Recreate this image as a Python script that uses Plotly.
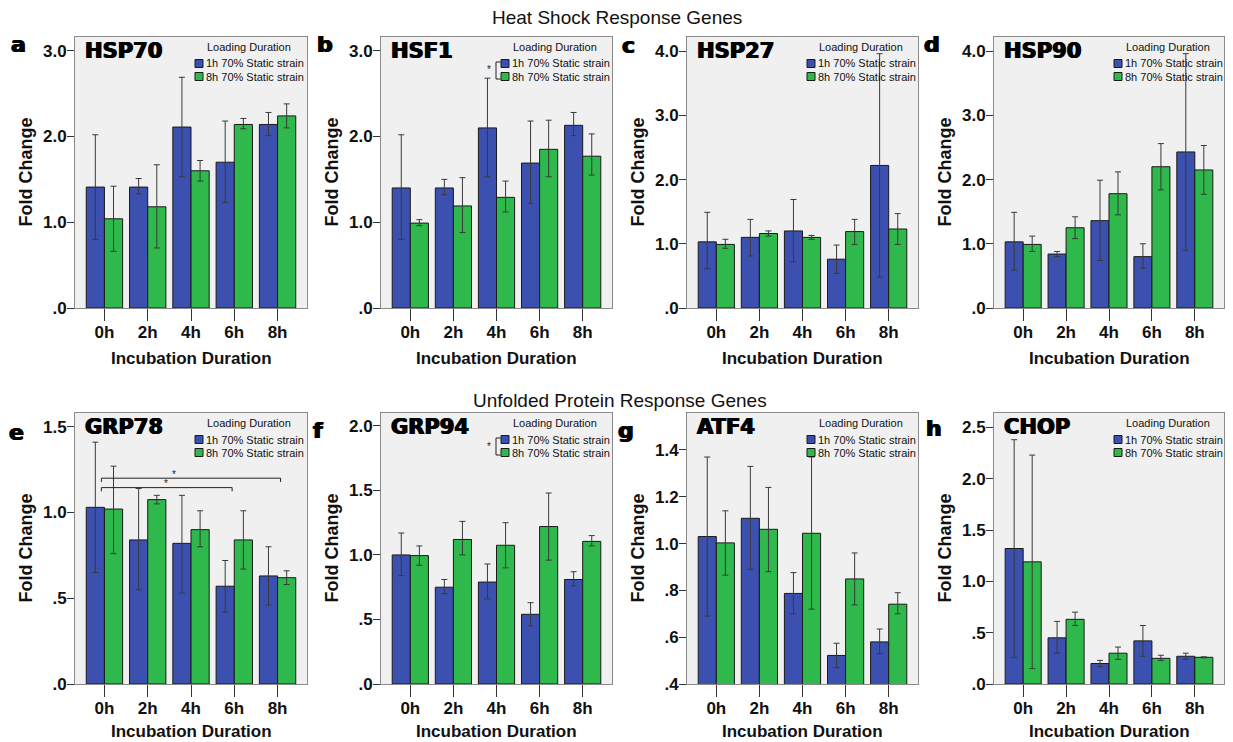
import plotly.graph_objects as go

# The page body has an 8 px margin, so the figure is drawn 8 px in from the top-left.
OFF = 8
W, H = 1233 - OFF, 742 - OFF

CATS = ["0h", "2h", "4h", "6h", "8h"]
SERIES = ["1h 70% Static strain", "8h 70% Static strain"]
LEGEND_TITLE = "Loading Duration"
GENES = ["HSP70", "HSF1", "HSP27", "HSP90", "GRP78", "GRP94", "ATF4", "CHOP"]
LETTERS = ["a", "b", "c", "d", "e", "f", "g", "h"]
SECTION_TITLES = ["Heat Shock Response Genes", "Unfolded Protein Response Genes"]
X_TITLE = "Incubation Duration"
Y_TITLE = "Fold Change"

# ---- values: mean, lower and upper error-bar ends ----
HSP70_1H = [1.41, 1.41, 2.11, 1.70, 2.14]
HSP70_1H_LO = [0.80, 1.33, 1.53, 1.23, 2.01]
HSP70_1H_HI = [2.02, 1.51, 2.69, 2.18, 2.28]
HSP70_8H = [1.04, 1.18, 1.60, 2.14, 2.24]
HSP70_8H_LO = [0.66, 0.70, 1.48, 2.09, 2.10]
HSP70_8H_HI = [1.42, 1.67, 1.72, 2.21, 2.38]

HSF1_1H = [1.40, 1.40, 2.10, 1.69, 2.13]
HSF1_1H_LO = [0.80, 1.32, 1.53, 1.22, 2.01]
HSF1_1H_HI = [2.02, 1.50, 2.68, 2.18, 2.28]
HSF1_8H = [0.99, 1.19, 1.29, 1.85, 1.77]
HSF1_8H_LO = [0.96, 0.88, 1.12, 1.53, 1.55]
HSF1_8H_HI = [1.03, 1.52, 1.48, 2.19, 2.03]

HSP27_1H = [1.03, 1.10, 1.20, 0.76, 2.22]
HSP27_1H_LO = [0.61, 0.81, 0.72, 0.54, 0.48]
HSP27_1H_HI = [1.49, 1.38, 1.69, 0.98, 3.96]
HSP27_8H = [0.99, 1.16, 1.10, 1.19, 1.23]
HSP27_8H_LO = [0.93, 1.12, 1.07, 0.99, 0.99]
HSP27_8H_HI = [1.07, 1.20, 1.13, 1.38, 1.47]

HSP90_1H = [1.03, 0.84, 1.36, 0.80, 2.43]
HSP90_1H_LO = [0.59, 0.80, 0.74, 0.62, 0.90]
HSP90_1H_HI = [1.49, 0.88, 1.99, 1.00, 3.96]
HSP90_8H = [0.99, 1.25, 1.78, 2.20, 2.15]
HSP90_8H_LO = [0.88, 1.08, 1.45, 1.84, 1.77]
HSP90_8H_HI = [1.12, 1.42, 2.12, 2.56, 2.53]

GRP78_1H = [1.03, 0.84, 0.82, 0.57, 0.63]
GRP78_1H_LO = [0.65, 0.55, 0.53, 0.42, 0.46]
GRP78_1H_HI = [1.41, 1.14, 1.10, 0.72, 0.80]
GRP78_8H = [1.02, 1.075, 0.90, 0.84, 0.62]
GRP78_8H_LO = [0.76, 1.05, 0.80, 0.67, 0.58]
GRP78_8H_HI = [1.27, 1.10, 1.01, 1.01, 0.66]

GRP94_1H = [1.00, 0.75, 0.79, 0.54, 0.81]
GRP94_1H_LO = [0.84, 0.70, 0.66, 0.45, 0.76]
GRP94_1H_HI = [1.17, 0.81, 0.93, 0.63, 0.87]
GRP94_8H = [0.995, 1.12, 1.075, 1.22, 1.105]
GRP94_8H_LO = [0.92, 1.00, 0.90, 0.96, 1.07]
GRP94_8H_HI = [1.07, 1.26, 1.25, 1.48, 1.15]

ATF4_1H = [1.03, 1.108, 0.787, 0.522, 0.58]
ATF4_1H_LO = [0.69, 0.89, 0.70, 0.47, 0.53]
ATF4_1H_HI = [1.37, 1.33, 0.876, 0.574, 0.635]
ATF4_8H = [1.003, 1.061, 1.044, 0.849, 0.741]
ATF4_8H_LO = [0.865, 0.88, 0.72, 0.738, 0.70]
ATF4_8H_HI = [1.14, 1.24, 1.37, 0.96, 0.79]

CHOP_1H = [1.32, 0.45, 0.20, 0.42, 0.27]
CHOP_1H_LO = [0.26, 0.30, 0.17, 0.27, 0.24]
CHOP_1H_HI = [2.38, 0.61, 0.23, 0.57, 0.30]
CHOP_8H = [1.19, 0.63, 0.30, 0.25, 0.26]
CHOP_8H_LO = [0.15, 0.57, 0.24, 0.23, 0.255]
CHOP_8H_HI = [2.23, 0.70, 0.36, 0.28, 0.265]

# y axis ticks per panel
Y_TICKS_A = [0, 1, 2, 3]
Y_TEXT_A = [".0", "1.0", "2.0", "3.0"]
Y_TICKS_C = [0, 1, 2, 3, 4]
Y_TEXT_C = [".0", "1.0", "2.0", "3.0", "4.0"]
Y_TICKS_E = [0, 0.5, 1.0, 1.5]
Y_TEXT_E = [".0", ".5", "1.0", "1.5"]
Y_TICKS_F = [0, 0.5, 1.0, 1.5, 2.0]
Y_TEXT_F = [".0", ".5", "1.0", "1.5", "2.0"]
Y_TICKS_G = [0.4, 0.6, 0.8, 1.0, 1.2, 1.4]
Y_TEXT_G = [".4", ".6", ".8", "1.0", "1.2", "1.4"]
Y_TICKS_H = [0, 0.5, 1.0, 1.5, 2.0, 2.5]
Y_TEXT_H = [".0", ".5", "1.0", "1.5", "2.0", "2.5"]

DATA = [
    (HSP70_1H, HSP70_1H_LO, HSP70_1H_HI, HSP70_8H, HSP70_8H_LO, HSP70_8H_HI),
    (HSF1_1H, HSF1_1H_LO, HSF1_1H_HI, HSF1_8H, HSF1_8H_LO, HSF1_8H_HI),
    (HSP27_1H, HSP27_1H_LO, HSP27_1H_HI, HSP27_8H, HSP27_8H_LO, HSP27_8H_HI),
    (HSP90_1H, HSP90_1H_LO, HSP90_1H_HI, HSP90_8H, HSP90_8H_LO, HSP90_8H_HI),
    (GRP78_1H, GRP78_1H_LO, GRP78_1H_HI, GRP78_8H, GRP78_8H_LO, GRP78_8H_HI),
    (GRP94_1H, GRP94_1H_LO, GRP94_1H_HI, GRP94_8H, GRP94_8H_LO, GRP94_8H_HI),
    (ATF4_1H, ATF4_1H_LO, ATF4_1H_HI, ATF4_8H, ATF4_8H_LO, ATF4_8H_HI),
    (CHOP_1H, CHOP_1H_LO, CHOP_1H_HI, CHOP_8H, CHOP_8H_LO, CHOP_8H_HI),
]

Y_AXES = [
    ([0, 3.16], Y_TICKS_A, Y_TEXT_A),
    ([0, 3.16], Y_TICKS_A, Y_TEXT_A),
    ([0, 4.22], Y_TICKS_C, Y_TEXT_C),
    ([0, 4.22], Y_TICKS_C, Y_TEXT_C),
    ([0, 1.58], Y_TICKS_E, Y_TEXT_E),
    ([0, 2.10], Y_TICKS_F, Y_TEXT_F),
    ([0.4, 1.558], Y_TICKS_G, Y_TEXT_G),
    ([0, 2.64], Y_TICKS_H, Y_TEXT_H),
]

# ---- layout geometry (pixels in the screenshot) ----
COL_X = [(75, 307), (381, 612), (687, 918), (994, 1224)]
ROW_Y = [(37, 308), (413, 684)]
LETTER_POS = [(18, 44), (325, 44), (628, 45), (932, 44),
              (16, 432), (318, 430), (626, 430), (934, 428)]
X_TITLE_SHIFT = [-50, -47]

BLUE = "#3B50AF"
GREEN = "#2FB84B"
COLORS = [BLUE, GREEN]
FONT = "Liberation Sans, Arial, sans-serif"
HEAVY = "DejaVu Sans, Arial Black, sans-serif"
HEAVY_SHADOW = "0.7px 0px 0px #000, -0.7px 0px 0px #000"

fig = go.Figure()
shapes = []
annotations = []


def px_x(x):
    return (x - OFF) / W


def px_y(y):
    return 1 - (y - OFF) / H


for i in range(8):
    n = i + 1
    col = i % 4
    row = i // 4
    x0, x1 = COL_X[col]
    y0, y1 = ROW_Y[row]
    pw, ph = x1 - x0, y1 - y0
    xa = "x" if n == 1 else f"x{n}"
    ya = "y" if n == 1 else f"y{n}"
    vals = DATA[i]
    for s in range(2):
        mean, lo, hi = vals[3 * s], vals[3 * s + 1], vals[3 * s + 2]
        fig.add_trace(go.Bar(
            x=CATS, y=mean, name=SERIES[s], xaxis=xa, yaxis=ya,
            marker=dict(color=COLORS[s], line=dict(color="#1a1a1a", width=1)),
            error_y=dict(type="data", symmetric=False,
                         array=[h - m for h, m in zip(hi, mean)],
                         arrayminus=[m - l for m, l in zip(mean, lo)],
                         color="#3a3a3a", thickness=1, width=3),
            showlegend=False,
        ))
    yr, tv, tt = Y_AXES[i]
    fig.layout[f"xaxis{n}" if n > 1 else "xaxis"] = dict(
        domain=[px_x(x0), px_x(x1)], anchor=ya, type="category", automargin=False,
        range=[-0.68, 4.68], showgrid=False, showline=True, linecolor="#8a8a8a",
        linewidth=1, mirror=True, ticks="outside", ticklen=12, tickwidth=1,
        tickcolor="#333", tickfont=dict(family=FONT, size=17, color="#111", weight="bold"),
        ticklabelstandoff=-3, fixedrange=True,
    )
    fig.layout[f"yaxis{n}" if n > 1 else "yaxis"] = dict(
        domain=[px_y(y1), px_y(y0)], anchor=xa, range=yr, tickvals=tv, ticktext=tt,
        automargin=False,
        showgrid=False, zeroline=False, showline=True, linecolor="#8a8a8a", linewidth=1,
        mirror=True, ticks="outside", ticklen=7, tickwidth=1, tickcolor="#333",
        tickfont=dict(family=FONT, size=17, color="#111", weight="bold"),
        ticklabelstandoff=-3, fixedrange=True,
    )
    xd = f"{xa} domain"
    yd = f"{ya} domain"
    # axis titles
    annotations.append(dict(x=0, y=0.5, xref=xd, yref=yd, xshift=-50, text=Y_TITLE,
                            textangle=-90, showarrow=False, xanchor="center", yanchor="middle",
                            font=dict(family=FONT, size=18, color="#111", weight="bold")))
    annotations.append(dict(x=0.5, y=0, xref=xd, yref=yd, yshift=X_TITLE_SHIFT[row],
                            text=X_TITLE, showarrow=False, xanchor="center", yanchor="middle",
                            font=dict(family=FONT, size=17, color="#111", weight="bold")))
    # gene name
    annotations.append(dict(x=8 / pw, y=1 - 14 / ph, xref=xd, yref=yd, text=GENES[i],
                            showarrow=False, xanchor="left", yanchor="middle",
                            font=dict(family=HEAVY, size=21, color="#000", weight="bold",
                                      shadow=HEAVY_SHADOW)))
    # panel letter
    lx, ly = LETTER_POS[i]
    annotations.append(dict(x=px_x(lx), y=px_y(ly), xref="paper", yref="paper", text=LETTERS[i],
                            showarrow=False, xanchor="center", yanchor="middle",
                            font=dict(family=HEAVY, size=22, color="#000", weight="bold",
                                      shadow=HEAVY_SHADOW)))
    # legend
    annotations.append(dict(x=174 / pw, y=1 - 10 / ph, xref=xd, yref=yd, text=LEGEND_TITLE,
                            showarrow=False, xanchor="center", yanchor="middle",
                            font=dict(family=FONT, size=11, color="#111")))
    for s, cy in enumerate([26.5, 39.5]):
        shapes.append(dict(type="rect", xref=xd, yref=yd,
                           x0=120 / pw, x1=128 / pw, y0=1 - (cy - 4) / ph, y1=1 - (cy + 4) / ph,
                           fillcolor=COLORS[s], line=dict(color="#1a1a1a", width=1)))
        annotations.append(dict(x=129 / pw, y=1 - cy / ph, xref=xd, yref=yd, text=SERIES[s],
                                showarrow=False, xanchor="left", yanchor="middle",
                                font=dict(family=FONT, size=11, color="#111")))
    # significance bracket beside legend (panels b and f)
    if GENES[i] in ("HSF1", "GRP94"):
        bx = 115 / pw
        bx2 = 119.5 / pw
        for seg in [(bx, 25, bx, 42), (bx, 25, bx2, 25), (bx, 42, bx2, 42)]:
            shapes.append(dict(type="line", xref=xd, yref=yd,
                               x0=seg[0], y0=1 - seg[1] / ph, x1=seg[2], y1=1 - seg[3] / ph,
                               line=dict(color="#222", width=1)))
        annotations.append(dict(x=108 / pw, y=1 - 33 / ph, xref=xd, yref=yd, text="*",
                                showarrow=False, xanchor="center", yanchor="middle",
                                font=dict(family=FONT, size=10, color="#222")))
    # significance brackets inside GRP78 panel
    if GENES[i] == "GRP78":
        for (xs, xe, yl, xstar) in [(-0.07, 4.07, 1.20, 1.6), (-0.07, 2.95, 1.145, 1.42)]:
            shapes.append(dict(type="line", xref=xa, yref=ya, x0=xs, x1=xe, y0=yl, y1=yl,
                               line=dict(color="#222", width=1)))
            for xx in (xs, xe):
                shapes.append(dict(type="line", xref=xa, yref=ya, x0=xx, x1=xx,
                                   y0=yl, y1=yl - 0.022, line=dict(color="#222", width=1)))
            annotations.append(dict(x=xstar, y=yl, xref=xa, yref=ya, text="*", yshift=4,
                                    showarrow=False, xanchor="center", yanchor="middle",
                                    font=dict(family=FONT, size=10, color="#222")))

# section headers
annotations.append(dict(x=px_x(617), y=px_y(18), xref="paper", yref="paper",
                        text=SECTION_TITLES[0], showarrow=False, xanchor="center",
                        yanchor="middle", font=dict(family=FONT, size=19, color="#111")))
annotations.append(dict(x=px_x(620), y=px_y(400), xref="paper", yref="paper",
                        text=SECTION_TITLES[1], showarrow=False, xanchor="center",
                        yanchor="middle", font=dict(family=FONT, size=19, color="#111")))

fig.update_layout(
    width=W, height=H, margin=dict(l=0, r=0, t=0, b=0, autoexpand=False),
    paper_bgcolor="white", plot_bgcolor="#F0F0F0",
    barmode="group", bargap=0.16, bargroupgap=0,
    shapes=shapes, annotations=annotations, showlegend=False,
    font=dict(family=FONT),
)

fig.write_html("out.html")
